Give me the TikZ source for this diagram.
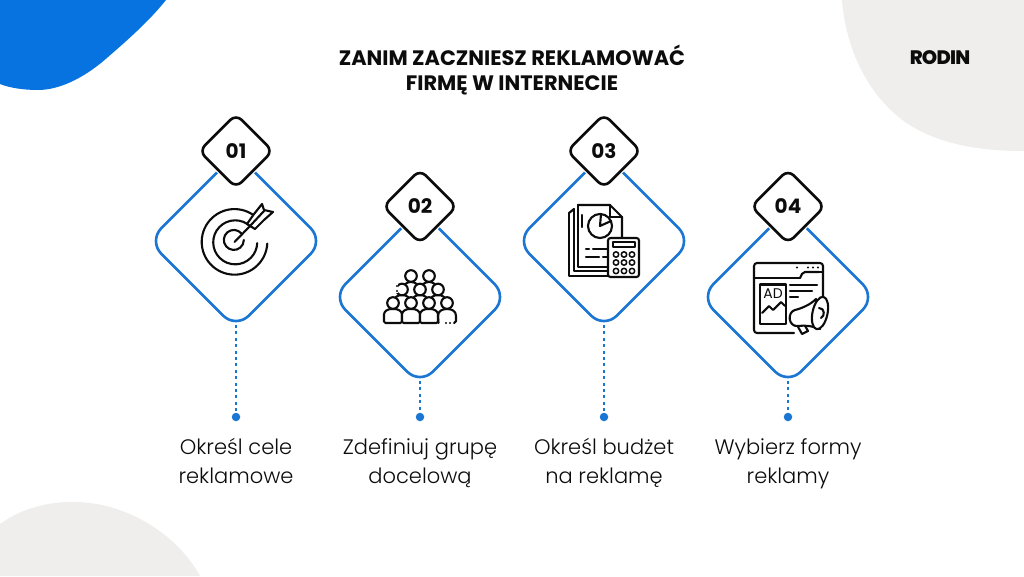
\documentclass[tikz,border=0pt]{standalone}
\usepackage{fontspec}
\setmainfont{Poppins}
\newfontfamily\lightfont[UprightFont=* Light]{Poppins}
\newfontfamily\logofont[UprightFont=* ExtraBold,LetterSpace=-4]{Poppins}
\definecolor{brandblue}{HTML}{0673E0}
\definecolor{linkblue}{HTML}{1A76D2}
\definecolor{softgray}{HTML}{EFEEED}
\definecolor{ink}{HTML}{0C0C0C}
\tikzset{
  bigdiamond/.style={draw=linkblue,line width=2.6pt,fill=white,rotate=45,minimum size=123.7pt,inner sep=0pt,outer sep=0pt,rounded corners=18pt},
  smalldiamond/.style={draw=ink,line width=2.6pt,fill=white,rotate=45,minimum size=52pt,inner sep=0pt,outer sep=0pt,rounded corners=8pt,preaction={draw=white,line width=5pt}},
  numlabel/.style={font=\fontsize{20}{24}\selectfont\bfseries,text=ink,inner sep=0pt},
  caption/.style={font=\lightfont\fontsize{21}{29}\selectfont,text=ink,align=center,inner sep=0pt},
  titletext/.style={font=\fontsize{20.9}{25}\selectfont\bfseries,text=ink,align=center,inner sep=0pt},
  enddot/.style={circle,fill=linkblue,minimum size=8.5pt,inner sep=0pt},
  dotlink/.style={draw=linkblue,line width=1.5pt,dash pattern=on 3pt off 3.4pt,shorten <=-3.5pt},
  icon/.style={draw=ink,line width=2.1pt,line cap=round,line join=round},
  iconw/.style={icon,fill=white}
}
\begin{document}
\begin{tikzpicture}[x=1pt,y=-1pt]
\useasboundingbox (0,0) rectangle (1024,576);
\fill[white] (0,0) rectangle (1024,576);
% background blobs
\fill[brandblue] (0,0) -- (166,0) .. controls (150,20) and (130,38) .. (108,57) .. controls (88,75) and (62,90) .. (38,90) .. controls (24,90) and (10,88) .. (0,84) -- cycle;
\fill[softgray] (842,0) .. controls (846,50) and (868,95) .. (905,122) .. controls (940,146) and (985,151) .. (1024,151) -- (1024,0) -- cycle;
\fill[softgray] (0,524) .. controls (22,508) and (50,501) .. (78,502) .. controls (130,504) and (178,536) .. (200,576) -- (0,576) -- cycle;
% title and logo
\node[titletext] (title) at (512,70.5) {ZANIM ZACZNIESZ REKLAMOWAĆ\\FIRMĘ W INTERNECIE};
\node[inner sep=0pt,text=ink,font=\logofont\fontsize{19.5}{22}\selectfont] (logo) at (940,57.5) {RODIN};
% big diamonds
\node[bigdiamond] (d1) at (236,241) {};
\node[bigdiamond] (d2) at (420,297) {};
\node[bigdiamond] (d3) at (604,241) {};
\node[bigdiamond] (d4) at (788,297) {};
% number diamonds
\node[smalldiamond] (s1) at (236,151) {};
\node[smalldiamond] (s2) at (420,206.5) {};
\node[smalldiamond] (s3) at (604,151) {};
\node[smalldiamond] (s4) at (788,206.5) {};
\node[numlabel] (n1) at (236,151) {01};
\node[numlabel] (n2) at (420,206) {02};
\node[numlabel] (n3) at (604,151) {03};
\node[numlabel] (n4) at (788,206) {04};
% end dots and captions
\node[enddot] (p1) at (236,417) {};
\node[enddot] (p2) at (420,417) {};
\node[enddot] (p3) at (604,417) {};
\node[enddot] (p4) at (788,417) {};
\draw[dotlink] (d1.south west) -- (p1);
\draw[dotlink] (d2.south west) -- (p2);
\draw[dotlink] (d3.south west) -- (p3);
\draw[dotlink] (d4.south west) -- (p4);
\node[caption] (c1) at (236,462.7) {\strut Określ cele\\reklamowe\strut};
\node[caption] (c2) at (420,462.7) {\strut Zdefiniuj grupę\\docelową\strut};
\node[caption] (c3) at (604,462.7) {\strut Określ budżet\\na reklamę\strut};
\node[caption] (c4) at (788,462.7) {\strut Wybierz formy\\reklamy\strut};
% icon 1: target
\draw[icon] (258.5,219.5) arc[start angle=-43,delta angle=-314,radius=32.8];
\draw[icon] (250.5,226.5) arc[start angle=-46,delta angle=-312,radius=22];
\draw[icon] (241.5,233.5) arc[start angle=-40,delta angle=-320,radius=10];
\draw[icon] (234.5,242) -- (251,225);
\draw[iconw] (247,224) -- (254,214) -- (262,204) -- (264,210) -- (273,212) -- (264,220) -- (255,229) -- cycle;
\draw[icon] (250,226) -- (264,211);
% icon 2: people
\foreach \x in {411,429}{
  \draw[iconw] (\x-9,291) .. controls (\x-8,284) and (\x-4,282) .. (\x,282) .. controls (\x+4,282) and (\x+8,284) .. (\x+9,291);
  \draw[iconw] (\x,276) circle[radius=5.8];
}
\foreach \x in {402,420,438}{
  \draw[iconw] (\x-9,304) -- (\x-9,302) .. controls (\x-8,297) and (\x-4,295) .. (\x,295) .. controls (\x+4,295) and (\x+8,297) .. (\x+9,302) -- (\x+9,304);
  \draw[iconw] (\x,289.5) circle[radius=5.8];
}
\fill[white] (394,283) rectangle (398,293);
\fill[ink] (397,286) circle[radius=1.2] (397,291) circle[radius=1.2];
\foreach \x in {393,411,429}{
  \draw[iconw,rounded corners=1.5pt] (\x-9,323) -- (\x-9,316) .. controls (\x-9,311) and (\x-5,309) .. (\x,309) .. controls (\x+5,309) and (\x+9,311) .. (\x+9,316) -- (\x+9,323) -- cycle;
  \draw[iconw] (\x,303) circle[radius=5.8];
}
\draw[icon] (438.5,323) -- (438,316) .. controls (438,311) and (442,309) .. (447,309) .. controls (452,309) and (456,311) .. (456,316) -- (456,321) -- (454,323);
\draw[iconw] (447,303) circle[radius=5.8];
\fill[ink] (446,323) circle[radius=1.1] (450,323) circle[radius=1.1];
% icon 3: documents and calculator
\draw[icon] (569,213) -- (569,276) -- (612,276);
\draw[icon] (569,213) -- (574,209);
\draw[icon] (574,209) -- (574,271) -- (608,271);
\draw[icon] (578,205) -- (610,205) -- (622,217) -- (622,238);
\draw[icon] (578,205) -- (578,267) -- (608,267);
\draw[icon] (610,205) -- (610,217) -- (622,217);
\draw[icon] (582,215) -- (582,227);
\draw[icon] (600,226) circle[radius=12];
\draw[icon] (601,214) -- (600,226) -- (611,221);
\draw[icon] (586,249) -- (589,249) (593,249) -- (607,249);
\draw[icon] (586,257) -- (599,257) (603,257) -- (607,257);
\draw[iconw,rounded corners=2.5pt] (608,238) rectangle (639,277);
\draw[icon] (613,242) rectangle (635,247);
\foreach \x in {616,624,632}\foreach \y in {254.5,262.5,271}{\draw[icon,line width=1.5pt] (\x,\y) circle[radius=2.7];}
% icon 4: ad window
\draw[icon,rounded corners=3pt] (794,333) -- (754,333) -- (754,263) -- (823,263) -- (823,300);
\draw[icon] (754,278) -- (800,278);
\draw[icon,rounded corners=2pt] (800,278) -- (803,272) -- (819,272);
\draw[icon] (819,272) -- (823,272);
\fill[ink] (797,267.5) circle[radius=1.1] (808,267.5) circle[radius=1.1] (813,267.5) circle[radius=1.1] (818,267.5) circle[radius=1.1];
\draw[icon] (760,284.5) rectangle (786,324);
\node[inner sep=0pt,text=ink,font=\fontsize{14}{16}\selectfont] (adtext) at (773,294) {AD};
\draw[icon] (762,313) -- (769,306) -- (773,310) -- (781,302) -- (785,306);
\draw[icon] (790,285) -- (817,285) (790,291) -- (812,291) (790,297) -- (798,297);
% megaphone
\draw[iconw] (797,325) -- (802,334) -- (808,331) -- (804,324) -- cycle;
\draw[iconw] (795,310) .. controls (803,308) and (811,304) .. (816,299) -- (820,329) .. controls (813,326) and (805,325) .. (798,326) .. controls (788,327) and (787,312) .. (795,310) -- cycle;
\draw[iconw,rotate around={-12:(820,313)}] (820,313) ellipse[x radius=7.5,y radius=16.5];
\draw[icon] (819,308) .. controls (825,308) and (825,316) .. (821,318);
\end{tikzpicture}
\end{document}
